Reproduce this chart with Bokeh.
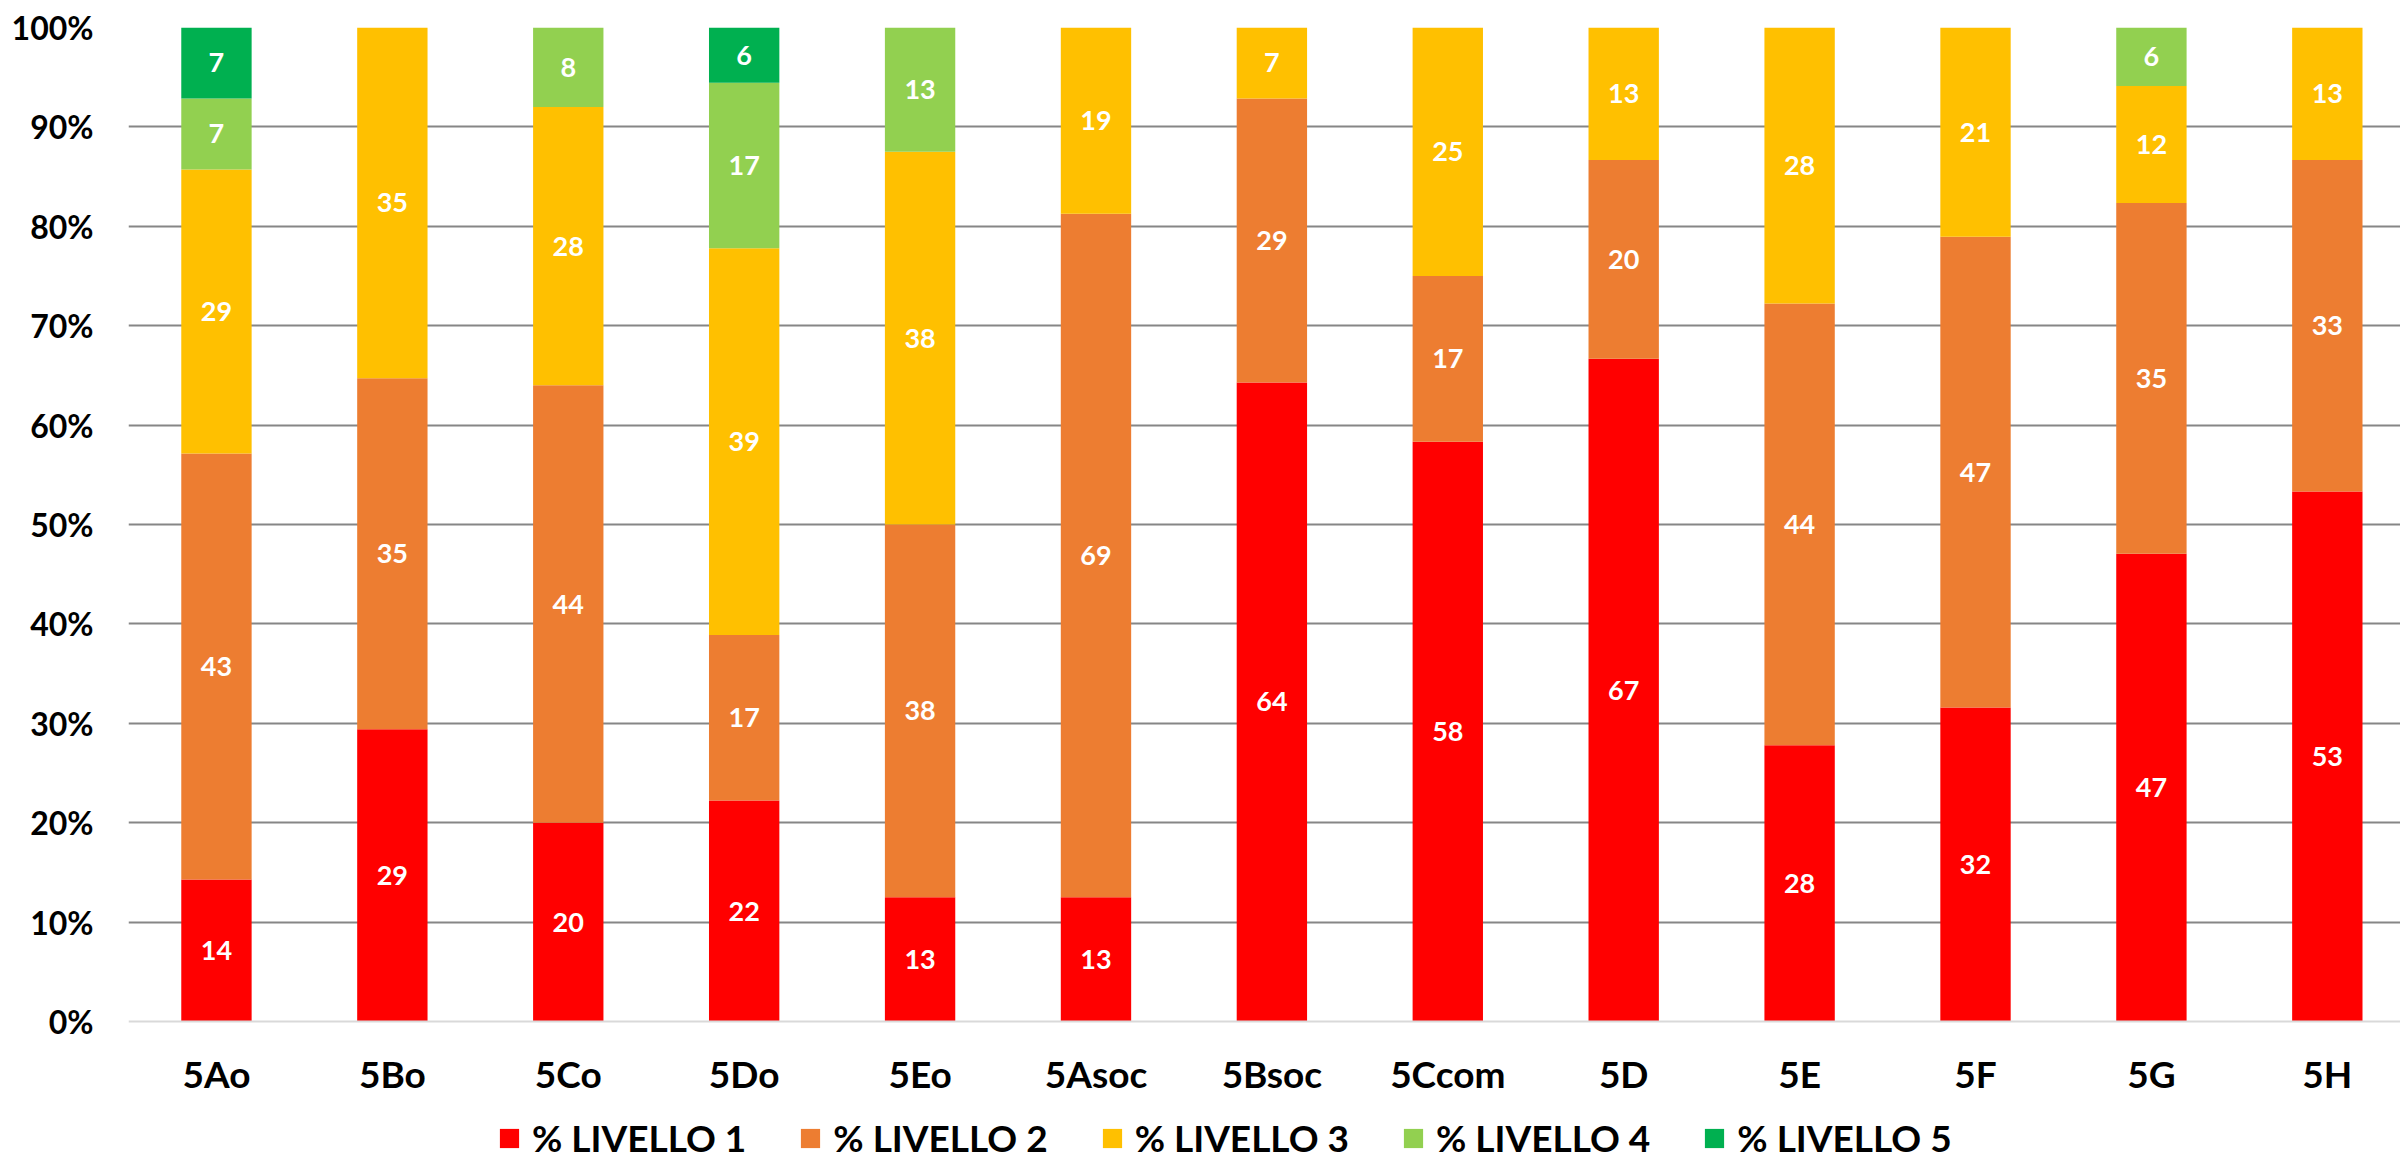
import numpy as np
from bokeh.plotting import figure
from bokeh.models import (ColumnDataSource, Range1d, FixedTicker, NumeralTickFormatter,
                          Legend, LegendItem)
from bokeh.core.properties import value
from bokeh.embed import file_html
from bokeh.resources import INLINE

# ---- data (percent of students per level) ----
classes = ["5Ao", "5Bo", "5Co", "5Do", "5Eo", "5Asoc", "5Bsoc", "5Ccom", "5D", "5E", "5F", "5G", "5H"]
livello_1 = [14.29, 29.41, 20.0, 22.22, 12.5, 12.5, 64.29, 58.33, 66.67, 27.78, 31.58, 47.06, 53.33]
livello_2 = [42.86, 35.29, 44.0, 16.67, 37.5, 68.75, 28.57, 16.67, 20.0, 44.44, 47.37, 35.29, 33.33]
livello_3 = [28.57, 35.29, 28.0, 38.89, 37.5, 18.75, 7.14, 25.0, 13.33, 27.78, 21.05, 11.76, 13.33]
livello_4 = [7.14, 0, 8.0, 16.67, 12.5, 0, 0, 0, 0, 0, 0, 5.88, 0]
livello_5 = [7.14, 0, 0, 5.56, 0, 0, 0, 0, 0, 0, 0, 0, 0]
series_names = ["% LIVELLO 1", "% LIVELLO 2", "% LIVELLO 3", "% LIVELLO 4", "% LIVELLO 5"]
colors = ["#FF0000", "#ED7D31", "#FFC000", "#92D050", "#00B050"]
y_ticks = [0, 0.1, 0.2, 0.3, 0.4, 0.5, 0.6, 0.7, 0.8, 0.9, 1.0]

series = [livello_1, livello_2, livello_3, livello_4, livello_5]
keys = ["l1", "l2", "l3", "l4", "l5"]
xpos = list(range(len(classes)))

data = {"x": xpos}
for k, s in zip(keys, series):
    data[k] = [v / 100.0 for v in s]
source = ColumnDataSource(data)

FONT = "Lato"

# frame spans down to the bottom of the canvas so the legend (drawn inside it) is not clipped;
# the value 0 sits at 143 px above the bottom edge
p = figure(width=2400, height=1164, output_backend="svg", toolbar_location=None,
           x_range=Range1d(-0.5, 12.416), y_range=Range1d(-0.1439, 1),
           min_border_left=128, min_border_right=0, min_border_top=27, min_border_bottom=0)
p.outline_line_color = None
p.background_fill_color = "white"
p.border_fill_color = "white"

renderers = p.vbar_stack(keys, x="x", width=0.40, color=colors, source=source, line_color=None)

# data labels
lx, ly, lt = [], [], []
bottom = np.zeros(len(classes))
for s in series:
    arr = np.array(s, dtype=float) / 100.0
    for i, v in enumerate(arr):
        if v > 0:
            lx.append(xpos[i])
            ly.append(bottom[i] + v / 2)
            lt.append(str(int(s[i] + 0.5)))
    bottom = bottom + arr
lab_src = ColumnDataSource(dict(x=lx, y=ly, t=lt))
p.text(x="x", y="y", text="t", source=lab_src, text_color="white",
       text_font=value(FONT), text_font_style="bold", text_font_size="27px",
       text_align="center", text_baseline="middle")

# axes
p.yaxis.ticker = FixedTicker(ticks=y_ticks)
p.yaxis.formatter = NumeralTickFormatter(format="0%")
p.yaxis.axis_line_color = None
p.yaxis.major_tick_line_color = None
p.yaxis.minor_tick_line_color = None
p.yaxis.major_tick_out = 0
p.yaxis.major_tick_in = 0
p.yaxis.major_label_standoff = 35
p.yaxis.major_label_text_font = FONT
p.yaxis.major_label_text_font_style = "bold"
p.yaxis.major_label_text_font_size = "32px"
p.yaxis.major_label_text_color = "#000000"

p.xaxis.fixed_location = 0
p.xaxis.ticker = FixedTicker(ticks=xpos)
p.xaxis.major_label_overrides = {i: c for i, c in zip(xpos, classes)}
p.xaxis.axis_line_color = "#D9D9D9"
p.xaxis.axis_line_width = 2
p.xaxis.major_tick_line_color = None
p.xaxis.minor_tick_line_color = None
p.xaxis.major_tick_out = 0
p.xaxis.major_tick_in = 0
p.xaxis.major_label_standoff = 30
p.xaxis.major_label_text_font = FONT
p.xaxis.major_label_text_font_style = "bold"
p.xaxis.major_label_text_font_size = "37px"
p.xaxis.major_label_text_color = "#000000"

p.xgrid.grid_line_color = None
p.ygrid.ticker = FixedTicker(ticks=y_ticks[1:])
p.ygrid.grid_line_color = "#868686"
p.ygrid.grid_line_width = 2

legend = Legend(items=[LegendItem(label=n, renderers=[r]) for n, r in zip(series_names, renderers)],
                orientation="horizontal", location=(369, 4),
                glyph_width=24, glyph_height=24, label_standoff=11, spacing=52,
                padding=0, margin=0, border_line_color=None, background_fill_alpha=0,
                label_text_font=FONT, label_text_font_style="bold",
                label_text_font_size="37px", label_text_color="#000000")
p.add_layout(legend, "center")

open("out.html", "w").write(file_html(p, INLINE))
